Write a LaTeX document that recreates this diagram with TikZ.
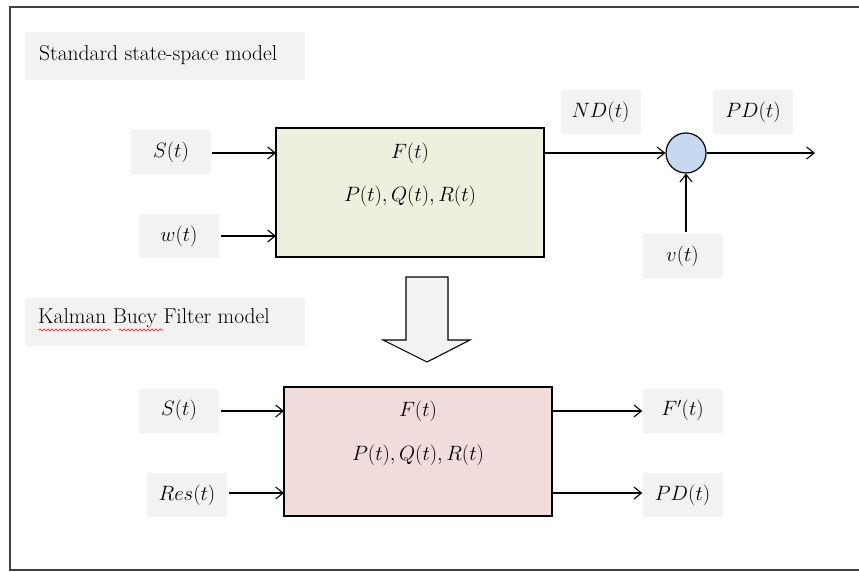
\documentclass[tikz,border=0pt]{standalone}
\usetikzlibrary{arrows.meta,decorations.pathmorphing}
\definecolor{lblgray}{HTML}{F2F2F2}
\definecolor{boxgreen}{HTML}{EBF1DE}
\definecolor{boxpink}{HTML}{F2DCDB}
\definecolor{sumblue}{HTML}{C6D9F1}
\definecolor{framegray}{HTML}{404040}
\begin{document}
\begin{tikzpicture}[x=1pt,y=-1pt,
  lbl/.style={fill=lblgray,draw=none,minimum width=80pt,minimum height=44pt,inner sep=0pt,font=\fontsize{20}{24}\selectfont},
  ttlbox/.style={fill=lblgray,draw=none,minimum width=280pt,minimum height=48pt,inner sep=0pt},
  ttltxt/.style={anchor=base west,inner sep=0pt,font=\fontsize{21.5}{24}\selectfont},
  blk/.style={draw=black,line width=1.2pt,inner sep=0pt},
  sig/.style={line width=1.1pt,-{Straight Barb[length=7.5pt,width=12pt,line width=1.1pt]}},
  blktxt/.style={font=\fontsize{20}{24}\selectfont},
  squig/.style={red,line width=0.6pt,decorate,decoration={snake,amplitude=1pt,segment length=4pt}}
]
\useasboundingbox (0,0) rectangle (859,572);
% outer frame (right side cut off)
\draw[framegray,line width=1.6pt] (866,7) -- (10,7) -- (10,570) -- (866,570);

% --- Standard state-space model ---
\node[ttlbox] (t1) at (165,56) {};
\node[ttltxt] (t1txt) at (39,61) {Standard state-space model};
\node[blk,fill=boxgreen,minimum width=268pt,minimum height=129pt] (g) at (410,192.5) {};
\node[blktxt] (gF) at (410,153) {$F(t)$};
\node[blktxt] (gP) at (410,196) {$P(t),Q(t),R(t)$};
\node[lbl] (s1) at (171,152) {$S(t)$};
\node[lbl] (w1) at (179,236) {$w(t)$};
\node[lbl] (nd) at (600.5,112) {$ND(t)$};
\node[lbl] (pd1) at (753,112) {$PD(t)$};
\node[lbl] (v1) at (682.5,256) {$v(t)$};
\node[circle,draw=black,line width=1.2pt,fill=sumblue,minimum size=40pt,inner sep=0pt] (sum) at (686,153) {};
\coordinate (out1) at (815,153);
\coordinate (s1out) at (212,153);
\coordinate (w1out) at (221,236);
\coordinate (g-in1) at (276,153);
\coordinate (g-in2) at (276,236);
\coordinate (v1top) at (686,232);

\draw[sig] (s1out) -- (g-in1);
\draw[sig] (w1out) -- (g-in2);
\draw[sig] (g.east |- sum.west) -- (sum.west);
\draw[sig] (sum.east) -- (out1);
\draw[sig] (v1top) -- (sum.south);

% --- hollow arrow ---
\draw[black,line width=1.1pt,fill=lblgray,line join=miter]
  (406,277) -- (448,277) -- (448,340) -- (470,340) -- (427,362) -- (383,340) -- (406,340) -- cycle;

% --- Kalman Bucy Filter model ---
\node[ttlbox] (t2) at (165,322) {};
\node[ttltxt] (t2txt) at (38,323) {Kalman Bucy Filter model};
\draw[squig] (39,330) -- (111,330);
\draw[squig] (119,330) -- (163,330);

\node[blk,fill=boxpink,minimum width=268pt,minimum height=129pt] (p) at (418,451.5) {};
\node[blktxt] (pF) at (418,411) {$F(t)$};
\node[blktxt] (pP) at (418,455) {$P(t),Q(t),R(t)$};
\node[lbl] (s2) at (179,410.5) {$S(t)$};
\node[lbl] (res) at (187,495) {$Res(t)$};
\node[lbl] (fp) at (682.5,410.5) {$F'(t)$};
\node[lbl] (pd2) at (682.5,495) {$PD(t)$};
\coordinate (s2out) at (221,411);
\coordinate (resout) at (229,493);
\coordinate (p-in1) at (284,411);
\coordinate (p-in2) at (284,493);

\draw[sig] (s2out) -- (p-in1);
\draw[sig] (resout) -- (p-in2);
\draw[sig] (p.east |- p-in1) -- (fp.west |- p-in1);
\draw[sig] (p.east |- p-in2) -- (pd2.west |- p-in2);
\end{tikzpicture}
\end{document}
